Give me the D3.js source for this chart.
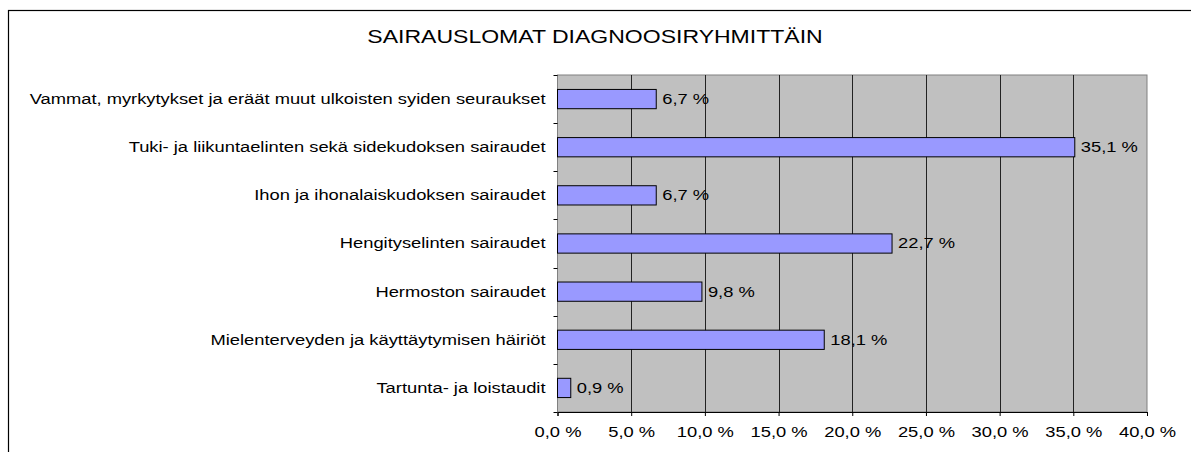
<!DOCTYPE html>
<html>
<head>
<meta charset="utf-8">
<script src="https://cdn.jsdelivr.net/npm/d3@7"></script>
<style>
  body { margin: 0; background: #fff; }
  svg text { font-family: "Liberation Sans", Arial, sans-serif; fill: #000; }
</style>
</head>
<body>
<div id="chart"></div>
<script>
// Data
const categories = [
    "Vammat, myrkytykset ja eräät muut ulkoisten syiden seuraukset",
    "Tuki- ja liikuntaelinten sekä sidekudoksen sairaudet",
    "Ihon ja ihonalaiskudoksen sairaudet",
    "Hengityselinten sairaudet",
    "Hermoston sairaudet",
    "Mielenterveyden ja käyttäytymisen häiriöt",
    "Tartunta- ja loistaudit"
];
const values = [6.7, 35.1, 6.7, 22.7, 9.8, 18.1, 0.9];
const xTicks = [0, 5, 10, 15, 20, 25, 30, 35, 40];
const title = "SAIRAUSLOMAT DIAGNOOSIRYHMITTÄIN";

const w = 1191, h = 452;
const plot = { left: 557.5, right: 1147, top: 75, bottom: 412 };
const sx = 1.31; // alkuperäisen fontin leveys

const fmt = v => v.toFixed(1).replace(".", ",") + " %";

const svg = d3.select("#chart").append("svg")
    .attr("width", w)
    .attr("height", h);

// Ulkoreunus (jatkuu kuvan ulkopuolelle)
svg.append("rect")
    .attr("x", 8.5).attr("y", 10.5)
    .attr("width", w + 50).attr("height", h + 50)
    .attr("fill", "#fff")
    .attr("stroke", "#000")
    .attr("stroke-width", 1.2);

svg.append("text")
    .attr("transform", `translate(595,43) scale(1.28,1)`)
    .attr("text-anchor", "middle")
    .style("font-size", "18px")
    .text(title);

const x = d3.scaleLinear()
    .domain([0, 40])
    .range([plot.left, plot.right]);

const y = d3.scaleBand()
    .domain(categories)
    .range([plot.top, plot.bottom])
    .paddingInner(0.6)
    .paddingOuter(0.3);

// Harmaa taustaalue
svg.append("rect")
    .attr("x", plot.left).attr("y", plot.top)
    .attr("width", plot.right - plot.left)
    .attr("height", plot.bottom - plot.top)
    .attr("fill", "#c0c0c0")
    .attr("stroke", "#808080")
    .attr("stroke-width", 1);

// Pystysuorat ruudukkoviivat
svg.append("g")
    .selectAll("line")
    .data(xTicks.slice(1, -1))
    .join("line")
    .attr("x1", d => Math.round(x(d)) + 0.5)
    .attr("x2", d => Math.round(x(d)) + 0.5)
    .attr("y1", plot.top)
    .attr("y2", plot.bottom)
    .attr("stroke", "#222")
    .attr("stroke-width", 1);

// Pylväät
svg.append("g")
    .selectAll("rect")
    .data(values)
    .join("rect")
    .attr("x", plot.left)
    .attr("y", (d, i) => y(categories[i]))
    .attr("width", d => x(d) - plot.left)
    .attr("height", y.bandwidth())
    .attr("fill", "#9999ff")
    .attr("stroke", "#000")
    .attr("stroke-width", 1);

// Arvotekstit
svg.append("g")
    .selectAll("text")
    .data(values)
    .join("text")
    .attr("transform", (d, i) => `translate(${x(d) + 6},${y(categories[i]) + y.bandwidth() / 2}) scale(${sx},1)`)
    .attr("dy", "0.35em")
    .style("font-size", "14px")
    .text(d => fmt(d));

// X-akseli
const xAxis = d3.axisBottom(x)
    .tickValues(xTicks)
    .tickSize(4)
    .tickPadding(11)
    .tickFormat(d => fmt(d));

const gx = svg.append("g")
    .attr("transform", `translate(0,${plot.bottom})`)
    .call(xAxis);
gx.select(".domain").attr("stroke", "#000");
gx.selectAll("text")
    .attr("transform", `scale(${sx},1)`)
    .style("font-size", "14px")
    .style("font-family", "Liberation Sans, Arial, sans-serif");

// Y-akseli: kategoriat ja väliviivat
const bounds = d3.range(categories.length + 1).map(i => plot.top + i * y.step());
svg.append("g")
    .selectAll("line")
    .data(bounds)
    .join("line")
    .attr("x1", plot.left - 4)
    .attr("x2", plot.left)
    .attr("y1", d => Math.round(d) + 0.5)
    .attr("y2", d => Math.round(d) + 0.5)
    .attr("stroke", "#000");

svg.append("g")
    .selectAll("text")
    .data(categories)
    .join("text")
    .attr("transform", d => `translate(${plot.left - 12},${y(d) + y.bandwidth() / 2}) scale(${sx},1)`)
    .attr("dy", "0.35em")
    .attr("text-anchor", "end")
    .style("font-size", "14px")
    .text(d => d);
</script>
</body>
</html>
